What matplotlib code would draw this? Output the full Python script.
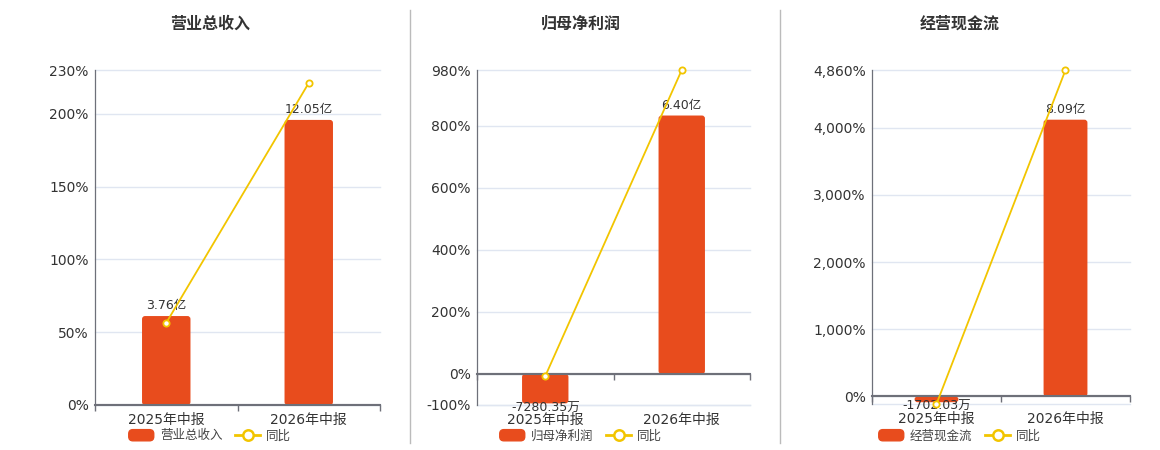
import matplotlib.pyplot as plt
from matplotlib.lines import Line2D
from matplotlib.patches import Patch, FancyBboxPatch
from matplotlib.legend_handler import HandlerPatch

plt.rcParams['font.family'] = ['DejaVu Sans', 'Noto Sans CJK SC']

# data
titles = ['营业总收入', '归母净利润', '经营现金流']
periods = ['2025年中报', '2026年中报']
bar_values = [[3.76, 12.05], [-0.728035, 6.40], [-0.170203, 8.09]]  # 亿
bar_labels = [['3.76亿', '12.05亿'], ['-7280.35万', '6.40亿'], ['-1702.03万', '8.09亿']]
yoy = [[56.4, 221.1], [-7.0, 980.0], [-113.0, 4860.0]]  # 同比 %

# axis setup
pct_lims = [(0, 230), (-100, 980), (-113, 4860)]
pct_ticks = [[0, 50, 100, 150, 200, 230],
             [-100, 0, 200, 400, 600, 800, 980],
             [0, 1000, 2000, 3000, 4000, 4860]]
bar_lims = [(0, 14.16), (-0.768, 7.527), (-0.222, 9.543)]
boxes = [(95, 380, 70, 405), (477, 750, 70, 405), (872, 1130, 70, 404)]  # l, r, t, b px
centers = [210, 581, 960]

bar_c = '#E84C1D'
line_c = '#F2C500'
axis_c = '#6E7079'
grid_c = '#E0E6F1'
txt_c = '#333333'

W, H = 1160, 450
fig = plt.figure(figsize=(W / 100, H / 100), dpi=100)


def round_rect(legend, orig_handle, xdescent, ydescent, width, height, fontsize):
    return FancyBboxPatch((-xdescent, -ydescent), width, height,
                          boxstyle='round,pad=0,rounding_size=3')


for i in range(3):
    l, r, t, b = boxes[i]
    lo, hi = pct_lims[i]
    x = list(range(len(periods)))

    ax = fig.add_axes([l / W, 1 - b / H, (r - l) / W, (b - t) / H])
    ax.set_xlim(-0.5, 1.5)
    ax.set_ylim(lo, hi)
    for v in pct_ticks[i] + [lo]:
        ax.axhline(v, color=grid_c, lw=1, zorder=0, clip_on=False)
    ax.set_yticks(pct_ticks[i])
    ax.set_yticklabels([f'{v:,}%' for v in pct_ticks[i]])
    ax.tick_params(axis='y', length=0, labelsize=10, labelcolor=txt_c, pad=4.5)
    ax.set_xticks(x)
    ax.set_xticklabels(periods)
    ax.tick_params(axis='x', length=0, labelsize=10, labelcolor=txt_c, pad=5.5)
    for s in ['top', 'right', 'bottom']:
        ax.spines[s].set_visible(False)
    ax.spines['left'].set_color(axis_c)
    ax.spines['left'].set_linewidth(0.9)

    # category boundary ticks on the zero line
    frac = (0 - lo) / (hi - lo)
    sec = ax.secondary_xaxis(frac)
    sec.set_xticks([-0.5, 0.5, 1.5])
    sec.tick_params(length=4, width=1, color=axis_c, labelbottom=False)
    sec.spines['bottom'].set_color(axis_c)
    sec.spines['bottom'].set_linewidth(1.5)

    axb = ax.twinx()
    axb.set_ylim(*bar_lims[i])
    bars = axb.bar(x, bar_values[i], width=0.34, color=bar_c)
    # rounded corners, about 3 px
    x_per_px = 2.0 / (r - l)
    y_per_px = (bar_lims[i][1] - bar_lims[i][0]) / (b - t)
    for rect in bars:
        rect.set_visible(False)
        y0 = min(rect.get_y(), rect.get_y() + rect.get_height())
        fb = FancyBboxPatch((rect.get_x(), y0), rect.get_width(), abs(rect.get_height()),
                            boxstyle=f'round,pad=0,rounding_size={3 * x_per_px}',
                            mutation_aspect=y_per_px / x_per_px,
                            facecolor=bar_c, edgecolor='none')
        axb.add_patch(fb)
    for xi, v, lab in zip(x, bar_values[i], bar_labels[i]):
        if v >= 0:
            axb.annotate(lab, (xi, v), xytext=(0, 4), textcoords='offset pixels',
                         ha='center', va='bottom', fontsize=9, color=txt_c)
        else:
            axb.annotate(lab, (xi, v), xytext=(0, 2), textcoords='offset pixels',
                         ha='center', va='top', fontsize=9, color=txt_c)
    axb.axis('off')

    axl = ax.twinx()
    axl.set_ylim(lo, hi)
    axl.axhline(0, color=axis_c, lw=1.5)
    axl.plot(x, yoy[i], color=line_c, lw=1.3, marker='o', ms=4.5,
             mfc='white', mec=line_c, mew=1.3, clip_on=False)
    axl.axis('off')

    fig.text(centers[i] / W, 1 - 24 / H, titles[i], ha='center', va='center',
             fontsize=11.5, fontweight='bold', color=txt_c)

    handles = [Patch(color=bar_c, label=titles[i]),
               Line2D([], [], color=line_c, lw=2, marker='o', ms=7.5,
                      mfc='white', mec=line_c, mew=1.8, label='同比')]
    fig.legend(handles=handles, loc='center', bbox_to_anchor=(centers[i] / W, 1 - 436 / H),
               ncol=2, frameon=False, fontsize=9, handlelength=2, handleheight=1.0,
               handletextpad=0.5, columnspacing=1.0, labelcolor='#444444',
               handler_map={Patch: HandlerPatch(patch_func=round_rect)})

for xd in [410, 780]:
    fig.add_artist(Line2D([xd / W, xd / W], [1 - 10 / H, 1 - 443 / H], color='#bbbbbb', lw=1))

fig.savefig('out.png', dpi=100)
